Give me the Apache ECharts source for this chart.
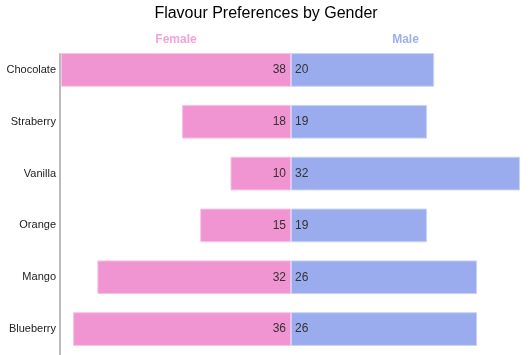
<!DOCTYPE html>
<html>
<head>
<meta charset="utf-8">
<script src="https://cdn.jsdelivr.net/npm/echarts@6/dist/echarts.min.js"></script>
<style>
html,body{margin:0;padding:0;background:#fff;}
#chart{width:532px;height:355px;}
</style>
</head>
<body>
<div id="chart"></div>
<script>
const categories = ['Chocolate', 'Straberry', 'Vanilla', 'Orange', 'Mango', 'Blueberry'];
const femaleValues = [38, 18, 10, 15, 32, 36];
const maleValues = [20, 19, 32, 19, 26, 26];
const titleText = 'Flavour Preferences by Gender';

const FONT = 'Liberation Sans, Arial, sans-serif';
const chart = echarts.init(document.getElementById('chart'), null, {renderer: 'canvas'});

const hiddenX = {
  type: 'value', min: 0, max: 'dataMax', position: 'top',
  nameLocation: 'middle', nameGap: -2,
  axisLine: {show: false}, axisTick: {show: false},
  axisLabel: {show: false}, splitLine: {show: false}
};

chart.setOption({
  animation: false,
  backgroundColor: '#ffffff',
  title: {
    text: titleText, left: 'center', top: 1,
    textStyle: {fontFamily: FONT, fontSize: 16, fontWeight: 'normal', color: '#000'}
  },
  grid: [
    {left: 61, width: 230, top: 44, height: 314},
    {left: 291, width: 229, top: 44, height: 314},
    {left: 60, width: 1, top: 54, bottom: -10}
  ],
  xAxis: [
    Object.assign({}, hiddenX, {gridIndex: 0, inverse: true, name: 'Female',
      nameTextStyle: {fontFamily: FONT, fontSize: 12, fontWeight: 'bold', color: '#F3A3D8'}}),
    Object.assign({}, hiddenX, {gridIndex: 1, name: 'Male',
      nameTextStyle: {fontFamily: FONT, fontSize: 12, fontWeight: 'bold', color: '#9EAEF0'}}),
    {gridIndex: 2, type: 'value', show: false}
  ],
  yAxis: [
    {
      gridIndex: 0, type: 'category', data: categories, inverse: true,
      axisLine: {show: false},
      axisTick: {show: true, length: 3, alignWithLabel: true, lineStyle: {color: '#888'}},
      axisLabel: {fontFamily: FONT, fontSize: 11, color: '#222', margin: 5}
    },
    {
      gridIndex: 1, type: 'category', data: categories, inverse: true, show: false
    },
    {
      gridIndex: 2, type: 'value', min: 0, max: 1,
      axisLine: {show: true, lineStyle: {color: '#bbbbbb', width: 2}},
      axisTick: {show: false}, axisLabel: {show: false}, splitLine: {show: false}
    }
  ],
  series: [
    {
      name: 'Female', type: 'bar', xAxisIndex: 0, yAxisIndex: 0,
      data: femaleValues, barCategoryGap: '35%',
      itemStyle: {color: '#F095D1', borderColor: '#F6C3E4', borderWidth: 1},
      label: {show: true, position: 'insideRight', distance: 5,
        fontFamily: FONT, fontSize: 12, color: '#333'}
    },
    {
      name: 'Male', type: 'bar', xAxisIndex: 1, yAxisIndex: 1,
      data: maleValues, barCategoryGap: '35%',
      itemStyle: {color: '#9BACEE', borderColor: '#C8D1F6', borderWidth: 1},
      label: {show: true, position: 'insideLeft', distance: 4,
        fontFamily: FONT, fontSize: 12, color: '#333'}
    }
  ]
});
</script>
</body>
</html>
